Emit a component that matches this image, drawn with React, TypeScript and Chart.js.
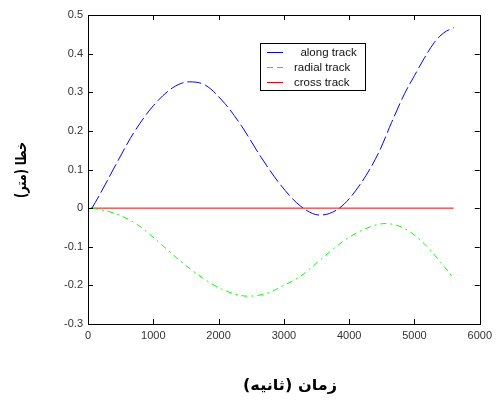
import React, { useEffect, useRef } from "react";
import { Chart, registerables } from "chart.js";

Chart.register(...registerables);

const alongTime = [60, 160, 260, 450, 700, 1000, 1300, 1550, 1800, 2100, 2350, 2650, 2950, 3250, 3550, 3850, 4150, 4450, 4650, 4850, 5000, 5150, 5300, 5450, 5600];
const alongValues = [0, 0.029, 0.06, 0.12, 0.195, 0.265, 0.312, 0.327, 0.318, 0.27, 0.213, 0.132, 0.06, 0.006, -0.018, 0.0, 0.057, 0.143, 0.222, 0.297, 0.343, 0.388, 0.428, 0.454, 0.467];

const radialTime = [60, 400, 750, 1050, 1400, 1750, 2050, 2450, 2750, 3000, 3250, 3550, 3900, 4200, 4550, 4850, 5150, 5400, 5600];
const radialValues = [0, -0.013, -0.042, -0.083, -0.135, -0.18, -0.21, -0.228, -0.22, -0.2, -0.177, -0.135, -0.087, -0.057, -0.04, -0.053, -0.092, -0.14, -0.182];

const crossTime = [40, 5600];
const crossValues = [0, 0];

const seriesNames = ["  along track", "radial track", "cross track"];
const xTicks = [0, 1000, 2000, 3000, 4000, 5000, 6000];
const yTicks = [-0.3, -0.2, -0.1, 0, 0.1, 0.2, 0.3, 0.4, 0.5];
const xTitle = "زمان (ثانیه)";
const yTitle = "خطا (متر)";

const toPoints = (t: number[], v: number[]) => t.map((x, i) => ({ x, y: v[i] }));

const fmt = (v: number) => String(Number(v.toFixed(1)));

function drawFitted(ctx: CanvasRenderingContext2D, text: string, targetW: number) {
  const w = ctx.measureText(text).width;
  const sx = w > 0 ? targetW / w : 1;
  ctx.save();
  ctx.scale(sx, 1);
  ctx.fillText(text, 0, 0);
  ctx.restore();
}

const framePlugin = {
  id: "frame",
  afterDatasetsDraw(chart: any) {
    const ctx = chart.ctx;
    const { left, right, top, bottom } = chart.chartArea;
    const xs = chart.scales.x;
    const ys = chart.scales.y;
    ctx.save();
    ctx.strokeStyle = "#000";
    ctx.lineWidth = 1;
    ctx.setLineDash([]);
    ctx.strokeRect(Math.round(left) + 0.5, Math.round(top) + 0.5, Math.round(right - left), Math.round(bottom - top));
    const tl = 5;
    ctx.beginPath();
    xTicks.forEach((t) => {
      const px = Math.round(xs.getPixelForValue(t)) + 0.5;
      ctx.moveTo(px, bottom);
      ctx.lineTo(px, bottom - tl);
      ctx.moveTo(px, top);
      ctx.lineTo(px, top + tl);
    });
    yTicks.forEach((v) => {
      const py = Math.round(ys.getPixelForValue(v)) + 0.5;
      ctx.moveTo(left, py);
      ctx.lineTo(left + tl, py);
      ctx.moveTo(right, py);
      ctx.lineTo(right - tl, py);
    });
    ctx.stroke();

    // legend
    const lx = 260.5, ly = 43.5, lw = 105, lh = 47;
    ctx.fillStyle = "#fff";
    ctx.fillRect(lx, ly, lw, lh);
    ctx.strokeRect(lx, ly, lw, lh);
    const rows = [52.5, 67.5, 82.5];
    const cols = ["#0000ff", "#00ff00", "#ff0000"];
    const dashes = [[], [6, 4], []];
    ctx.font = "11.5px 'Liberation Sans', Arial, sans-serif";
    ctx.textBaseline = "middle";
    ctx.textAlign = "left";
    rows.forEach((ry, i) => {
      ctx.strokeStyle = cols[i];
      ctx.setLineDash(dashes[i]);
      ctx.beginPath();
      ctx.moveTo(267, ry);
      ctx.lineTo(283, ry);
      ctx.stroke();
      ctx.fillStyle = "#111";
      ctx.fillText(seriesNames[i], 294, ry);
    });
    ctx.setLineDash([]);

    // axis titles
    ctx.fillStyle = "#000";
    ctx.font = "bold 15px 'DejaVu Sans', sans-serif";
    ctx.textAlign = "center";
    ctx.textBaseline = "middle";
    (ctx as any).direction = "rtl";
    ctx.save();
    ctx.translate(290, 386);
    drawFitted(ctx, xTitle, 94);
    ctx.restore();
    ctx.save();
    ctx.translate(22, 170);
    ctx.rotate(-Math.PI / 2);
    drawFitted(ctx, yTitle, 56);
    ctx.restore();
    ctx.restore();
  },
};

export default function App() {
  const ref = useRef<HTMLCanvasElement | null>(null);
  useEffect(() => {
    if (!ref.current) return;
    const chart = new Chart(ref.current, {
      type: "line",
      data: {
        datasets: [
          {
            label: seriesNames[0],
            data: toPoints(alongTime, alongValues),
            borderColor: "#0000ff",
            borderWidth: 1,
            borderDash: [14, 4],
            pointRadius: 0,
            cubicInterpolationMode: "monotone",
            fill: false,
          },
          {
            label: seriesNames[1],
            data: toPoints(radialTime, radialValues),
            borderColor: "#00ff00",
            borderWidth: 1,
            borderDash: [6, 4, 2, 4],
            pointRadius: 0,
            cubicInterpolationMode: "monotone",
            fill: false,
          },
          {
            label: seriesNames[2],
            data: toPoints(crossTime, crossValues),
            borderColor: "#ff0000",
            borderWidth: 1,
            pointRadius: 0,
            fill: false,
          },
        ],
      },
      options: {
        responsive: false,
        animation: false,
        events: [],
        layout: { padding: { left: 0, right: 15, top: 15, bottom: 0 } },
        plugins: { legend: { display: false }, tooltip: { enabled: false }, title: { display: false } },
        scales: {
          x: {
            type: "linear",
            min: 0,
            max: 6000,
            afterBuildTicks: (s: any) => {
              s.ticks = xTicks.map((v) => ({ value: v }));
            },
            afterFit: (s: any) => {
              s.height = 77;
            },
            grid: { display: false, drawTicks: false },
            border: { display: false },
            ticks: {
              padding: 5,
              maxRotation: 0,
              autoSkip: false,
              color: "#333",
              font: { family: "'Liberation Sans', Arial, sans-serif", size: 11 },
              callback: (v: any) => String(v),
            },
          },
          y: {
            type: "linear",
            min: -0.3,
            max: 0.5,
            afterBuildTicks: (s: any) => {
              s.ticks = yTicks.map((v) => ({ value: v }));
            },
            afterFit: (s: any) => {
              s.width = 88;
            },
            grid: { display: false, drawTicks: false },
            border: { display: false },
            ticks: {
              padding: 5,
              autoSkip: false,
              color: "#333",
              font: { family: "'Liberation Sans', Arial, sans-serif", size: 11 },
              callback: (v: any) => fmt(Number(v)),
            },
          },
        },
      },
      plugins: [framePlugin],
    } as any);
    return () => chart.destroy();
  }, []);
  return (
    <div style={{ position: "fixed", left: 0, top: 0, width: 497, height: 401, background: "#fff" }}>
      <canvas ref={ref} width={497} height={401} style={{ width: 497, height: 401, display: "block" }} />
    </div>
  );
}
